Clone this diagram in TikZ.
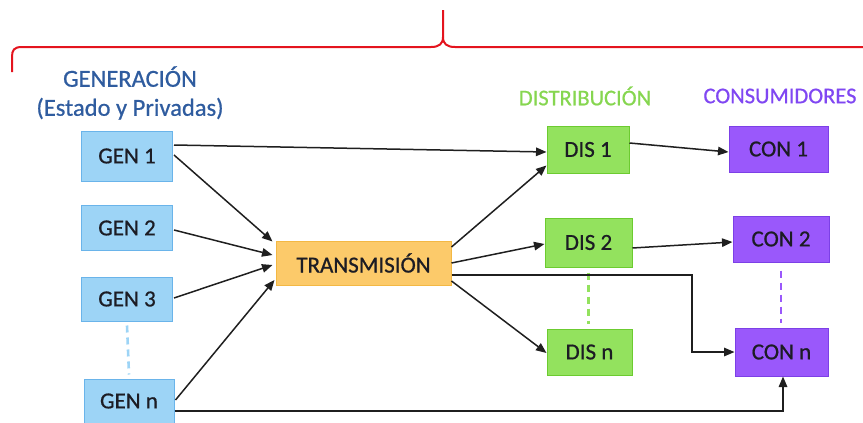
\documentclass[tikz,border=0pt]{standalone}
\usepackage{fontspec}
\setmainfont{Carlito}
\newfontfamily\heavyfont{Carlito}[FakeBold=0.7]
\usetikzlibrary{arrows.meta}
\definecolor{genfill}{HTML}{9DD4F6}
\definecolor{gendraw}{HTML}{6AB4EA}
\definecolor{trfill}{HTML}{FCCA6A}
\definecolor{trdraw}{HTML}{F3B844}
\definecolor{disfill}{HTML}{93E25E}
\definecolor{disdraw}{HTML}{6CCB30}
\definecolor{confill}{HTML}{9A58FB}
\definecolor{condraw}{HTML}{7C40E6}
\definecolor{gentext}{HTML}{2F5C9F}
\definecolor{distext}{HTML}{86D650}
\definecolor{context}{HTML}{8047F2}
\definecolor{bracered}{HTML}{E4141E}
\definecolor{boxtext}{HTML}{1C1C24}
\begin{document}
\begin{tikzpicture}[x=1pt,y=-1pt,
  txt/.style={font=\heavyfont\fontsize{23}{27}\selectfont},
  box/.style={txt, text=boxtext, line width=1pt, inner sep=0pt, rectangle},
  genbox/.style={box, fill=genfill, draw=gendraw},
  trbox/.style={box, fill=trfill, draw=trdraw},
  disbox/.style={box, fill=disfill, draw=disdraw},
  conbox/.style={box, fill=confill, draw=condraw},
  arr/.style={draw=black!88, line width=1.5pt, -{Triangle[length=10.5pt,width=8.5pt]}},
  gap/.style={line width=2.6pt, dash pattern=on 7pt off 5pt},
  brace/.style={draw=bracered, line width=2pt}
]
\useasboundingbox (0,0) rectangle (863,423);
\begin{scope}
\clip (0,0) rectangle (863,423);

% curly brace over the whole chain
\draw[brace] (12,72) -- (12,57) .. controls (12,50) and (14,47) .. (22,47)
  -- (431,47) .. controls (439,47) and (443,44) .. (443,37) -- (443,10);
\draw[brace] (443,37) .. controls (443,44) and (447,47) .. (455,47) -- (880,47);

% headings
\node[txt, font=\heavyfont\fontsize{24.5}{29}\selectfont, text=gentext, align=center] (hgen) at (130,93) {GENERACIÓN\\(Estado y Privadas)};
\node[txt, font=\heavyfont\fontsize{22.5}{27}\selectfont, text=distext] (hdis) at (585,96) {DISTRIBUCIÓN};
\node[txt, font=\heavyfont\fontsize{22.5}{27}\selectfont, text=context] (hcon) at (780,96) {CONSUMIDORES};

% generation
\node[genbox, minimum width=91pt, minimum height=50pt] (gen1) at (127,156) {GEN 1};
\node[genbox, minimum width=91pt, minimum height=45pt] (gen2) at (127,228) {GEN 2};
\node[genbox, minimum width=91pt, minimum height=44pt] (gen3) at (127,299) {GEN 3};
\node[genbox, minimum width=90pt, minimum height=44pt] (genn) at (129,401) {GEN n};

% transmission
\node[trbox, minimum width=175pt, minimum height=44pt] (trans) at (363.5,263) {TRANSMISIÓN};

% distribution
\node[disbox, minimum width=82pt, minimum height=47pt] (dis1) at (588,149.5) {DIS 1};
\node[disbox, minimum width=87pt, minimum height=49pt] (dis2) at (588.5,242.5) {DIS 2};
\node[disbox, minimum width=85pt, minimum height=46pt] (disn) at (589.5,352) {DIS n};

% consumers
\node[conbox, minimum width=99pt, minimum height=46pt] (con1) at (778.5,149) {CON 1};
\node[conbox, minimum width=96pt, minimum height=46pt] (con2) at (781,239) {CON 2};
\node[conbox, minimum width=93pt, minimum height=48pt] (conn) at (781.5,352) {CON n};

% dashed ellipsis links
\draw[gap, draw=genfill] ([yshift=-4pt]gen3.south) -- ([yshift=4pt]genn.south |- genn.north);
\draw[gap, draw=disfill] ([yshift=-5pt]dis2.south) -- ([yshift=5pt]dis2.south |- disn.north);
\draw[gap, draw=confill] ([yshift=-8pt]con2.south) -- ([yshift=5pt]con2.south |- conn.north);

% generation to transmission
\draw[arr] ([xshift=1pt,yshift=11pt]gen1.east) -- ([yshift=-2.5pt]dis1.west);
\draw[arr] ([xshift=1pt,yshift=1pt]gen1.east) -- ([xshift=-3pt,yshift=-1pt]trans.north west);
\draw[arr] ([xshift=1pt,yshift=-2pt]gen2.east) -- ([xshift=-3pt,yshift=8pt]trans.west);
\draw[arr] ([xshift=1pt,yshift=1pt]gen3.east) -- ([xshift=-3pt,yshift=-2pt]trans.west);
\draw[arr] ([xshift=1pt,yshift=1pt]genn.east) -- ([xshift=-1pt,yshift=-17pt]trans.west);

% transmission to distribution
\draw[arr] ([yshift=16pt]trans.east) -- ([yshift=8pt]dis1.south west);
\draw[arr] ([yshift=0pt]trans.east) -- ([yshift=-1.5pt]dis2.west);
\draw[arr] ([yshift=-18pt]trans.east) -- ([yshift=-1pt]disn.west);
\coordinate (bend1) at (692,275);
\draw[arr] ([yshift=-12pt]trans.east) -- (bend1) |- (conn.west);

% distribution to consumers
\draw[arr] ([yshift=6.5pt]dis1.east) -- ([yshift=-3pt]con1.west);
\draw[arr] ([yshift=-5.5pt]dis2.east) -- ([yshift=-3pt]con2.west);

% direct supply
\coordinate (bend2) at (783,411);
\draw[arr] ([yshift=-10pt]genn.east) -- (bend2) -- (bend2 |- conn.south);
\end{scope}
\end{tikzpicture}
\end{document}
